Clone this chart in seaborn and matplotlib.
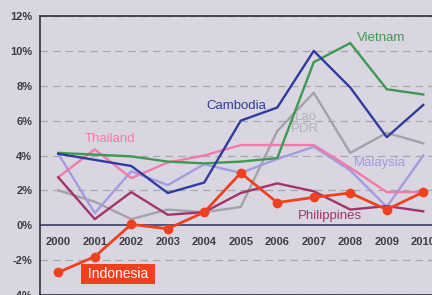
import matplotlib
matplotlib.use("Agg")
import matplotlib.pyplot as plt
import seaborn as sns
import pandas as pd

# datos (crecimiento anual, %)
years = list(range(2000, 2011))
cambodia = [4.1, 3.75, 3.4, 1.85, 2.45, 6.0, 6.75, 10.0, 7.9, 5.05, 6.9]
vietnam = [4.15, 4.05, 3.95, 3.65, 3.55, 3.65, 3.85, 9.35, 10.45, 7.8, 7.5]
lao = [2.0, 1.35, 0.35, 0.9, 0.75, 1.05, 5.4, 7.6, 4.15, 5.3, 4.7]
thailand = [2.75, 4.35, 2.7, 3.6, 4.0, 4.6, 4.6, 4.6, 3.3, 1.9, 1.9]
malaysia = [4.1, 0.7, 3.1, 2.3, 3.5, 3.0, 3.8, 4.5, 3.15, 1.05, 4.0]
philippines = [2.75, 0.35, 1.9, 0.6, 0.75, 1.85, 2.4, 1.95, 0.9, 1.1, 0.8]
indonesia = [-2.7, -1.8, 0.05, -0.2, 0.75, 3.0, 1.3, 1.6, 1.85, 0.9, 1.9]
yticks = [-4, -2, 0, 2, 4, 6, 8, 10, 12]

series = {
    'Lao PDR': lao,
    'Malaysia': malaysia,
    'Thailand': thailand,
    'Philippines': philippines,
    'Vietnam': vietnam,
    'Cambodia': cambodia,
}
colors = {
    'Lao PDR': '#a3a2a6',
    'Malaysia': '#a39be0',
    'Thailand': '#f27aaa',
    'Philippines': '#a2336c',
    'Vietnam': '#3d9a50',
    'Cambodia': '#2f3c9e',
    'Indonesia': '#f0401e',
}

df = pd.DataFrame([
    {'year': y, 'value': v, 'country': c}
    for c, vals in series.items() for y, v in zip(years, vals)
])
df_ind = pd.DataFrame({'year': years, 'value': indonesia})

bg = '#d9d6e1'
plt.rcParams['font.family'] = ['Liberation Sans', 'DejaVu Sans']
fig = plt.figure(figsize=(4.32, 2.95), dpi=100, facecolor=bg)
ax = fig.add_axes([40 / 432, 0.0, 392 / 432, 1 - 16 / 295])
ax.set_facecolor(bg)

# lineas de rejilla
for t in yticks:
    if t != 0:
        ax.axhline(t, color='#a8a6b0', lw=0.9, ls=(0, (6, 4)), zorder=0)
ax.axhline(0, color='#3a3d66', lw=1.2, zorder=1)

sns.lineplot(data=df, x='year', y='value', hue='country', palette=colors,
             lw=1.7, legend=False, ax=ax, zorder=2)
sns.lineplot(data=df_ind, x='year', y='value', color=colors['Indonesia'],
             lw=2.0, marker='o', markersize=7, markeredgewidth=0, ax=ax, zorder=3)

ax.set_xlim(1999.5, 1999.5 + 392 / 36.5)
ax.set_ylim(-4, 12)
ax.set_yticks(yticks)
ax.set_yticklabels([f'{t}%' for t in yticks], fontsize=8, fontweight='bold', color='#3c3c44')
ax.tick_params(axis='y', length=0, pad=5.5)
ax.set_xticks([])
ax.set_xlabel('')
ax.set_ylabel('')

for y in years:
    ax.text(y, -0.95, str(y), ha='center', va='center', fontsize=8,
            fontweight='bold', color='#3c3c44')

for s in ['left', 'top', 'bottom']:
    ax.spines[s].set_color('#303040')
    ax.spines[s].set_linewidth(1.2)
ax.spines['right'].set_visible(False)

# etiquetas de series
lab = dict(fontsize=9.5, ha='center', va='center')
ax.text(2004.88, 6.85, 'Cambodia', color=colors['Cambodia'], **lab)
ax.text(2008.85, 10.75, 'Vietnam', color=colors['Vietnam'], **lab)
ax.text(2006.77, 5.86, 'Lao\nPDR', color='#b3b2b8', linespacing=0.95, **lab)
ax.text(2001.42, 4.94, 'Thailand', color=colors['Thailand'], **lab)
ax.text(2008.82, 3.56, 'Malaysia', color=colors['Malaysia'], **lab)
ax.text(2007.45, 0.52, 'Philippines', color=colors['Philippines'], **lab)
ax.text(2001.64, -2.8, ' Indonesia ', color='white', fontsize=10, ha='center', va='center',
        bbox=dict(boxstyle='square,pad=0.2', fc=colors['Indonesia'], ec='none'))

fig.savefig('out.png', dpi=100, facecolor=bg)
